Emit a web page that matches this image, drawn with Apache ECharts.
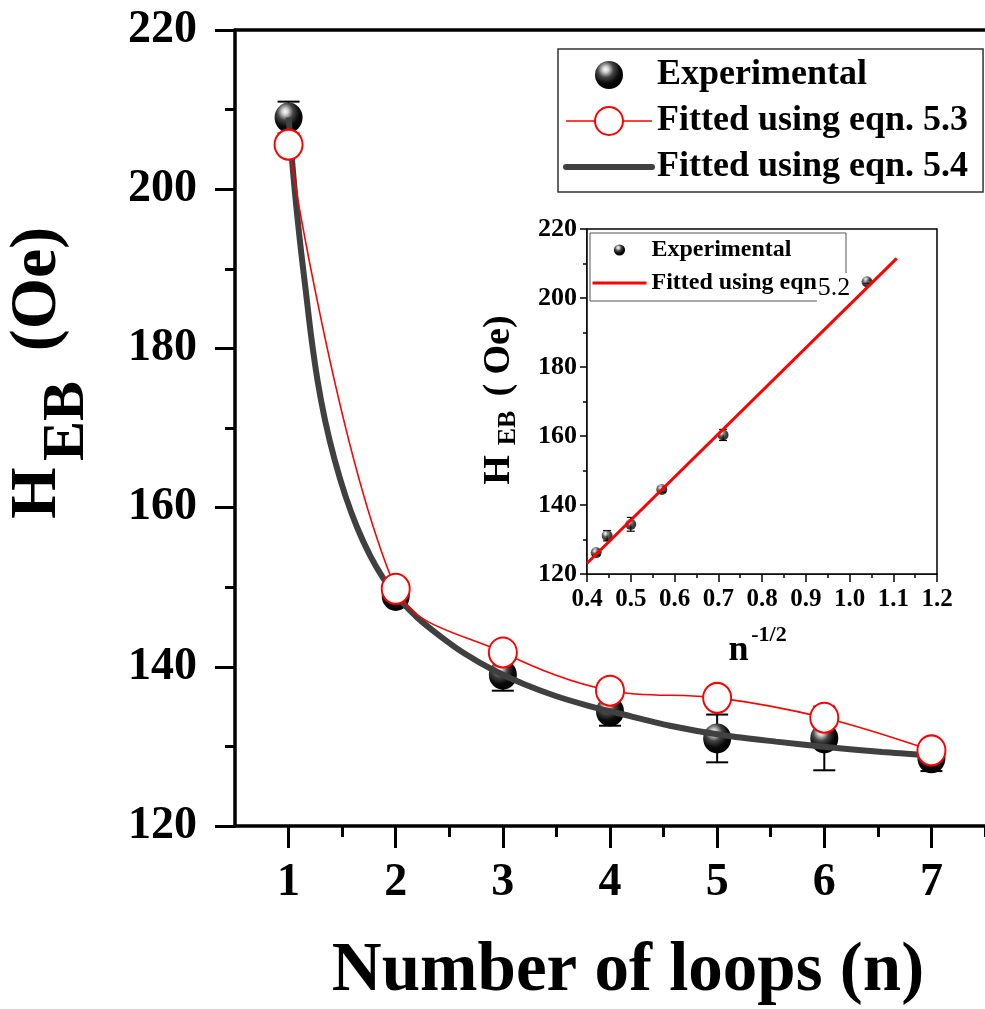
<!DOCTYPE html>
<html>
<head>
<meta charset="utf-8">
<script src="https://cdn.jsdelivr.net/npm/echarts@6/dist/echarts.min.js"></script>
<style>
html,body{margin:0;padding:0;background:#fff;}
#chart{width:985px;height:1009px;}
</style>
</head>
<body>
<div id="chart"></div>
<script>
// ---- main chart data ----
const loops = [1, 2, 3, 4, 5, 6, 7];
const hebExp = [209.0, 148.9, 139.0, 134.4, 131.0, 131.0, 128.5];
const hebErr = [2.0, 1.0, 2.0, 1.8, 3.0, 4.0, 1.6];
const fit53 = [205.6, 149.8, 141.8, 137.0, 136.1, 133.6, 129.5];
const fit54X = [1.00, 1.03, 1.06, 1.09, 1.12, 1.16, 1.21, 1.27, 1.34, 1.43, 1.53, 1.64, 1.76, 1.88, 2.00, 2.20, 2.42, 2.65, 2.91, 3.20, 3.50, 3.80, 4.07, 4.56, 5.06, 5.55, 6.04, 6.54, 6.97];
const fit54Y = [209.0, 204.0, 199.5, 195.5, 191.8, 187.3, 181.6, 176.0, 171.0, 166.0, 161.5, 157.5, 154.0, 151.2, 149.0, 146.2, 143.8, 141.6, 139.6, 137.8, 136.3, 135.1, 134.2, 132.6, 131.4, 130.6, 129.9, 129.3, 128.9];
const xMajorTicks = [1, 2, 3, 4, 5, 6, 7];
const xMinorTicks = [1.5, 2.5, 3.5, 4.5, 5.5, 6.5, 7.5];
// ---- inset data ----
const insetX = [0.421, 0.446, 0.5, 0.571, 0.711, 1.04];
const insetY = [126.2, 131.1, 134.4, 144.5, 160.3, 204.7];
const insetErr = [0.8, 1.5, 2.0, 0.8, 1.6, 0.5];
const insetFitX = [0.4, 1.108];
const insetFitY = [123.1, 211.5];

const FONT = 'Liberation Serif';
const sphere = {
  type: 'radial', x: 0.38, y: 0.3, r: 0.72,
  colorStops: [
    {offset: 0, color: '#ffffff'},
    {offset: 0.15, color: '#cfcfcf'},
    {offset: 0.4, color: '#444444'},
    {offset: 0.7, color: '#0a0a0a'},
    {offset: 1, color: '#000000'}
  ]
};

function errBar(halfCap, lw) {
  return function (params, api) {
    const x = api.value(0), y = api.value(1), e = api.value(2);
    const t = api.coord([x, y + e]);
    const b = api.coord([x, y - e]);
    const st = {stroke: '#000', lineWidth: lw};
    return {type: 'group', children: [
      {type: 'line', shape: {x1: t[0], y1: t[1], x2: b[0], y2: b[1]}, style: st},
      {type: 'line', shape: {x1: t[0] - halfCap, y1: t[1], x2: t[0] + halfCap, y2: t[1]}, style: st},
      {type: 'line', shape: {x1: b[0] - halfCap, y1: b[1], x2: b[0] + halfCap, y2: b[1]}, style: st}
    ]};
  };
}

const chart = echarts.init(document.getElementById('chart'), null, {renderer: 'canvas'});
const axisBlack = {color: '#000', width: 3.5};
const option = {
  animation: false,
  backgroundColor: '#fff',
  textStyle: {fontFamily: FONT},
  grid: [
    {left: 235, top: 30, right: -9, bottom: 183, containLabel: false},
    {left: 587, top: 229, width: 350, height: 345, show: true, backgroundColor: '#fff', borderColor: '#000', borderWidth: 1.5, z: 10}
  ],
  xAxis: [
    {gridIndex: 0, type: 'value', min: 0.5, max: 7.5, position: 'bottom',
     axisLine: {show: true, onZero: false, lineStyle: axisBlack},
     axisTick: {show: true, inside: false, length: 22, customValues: xMajorTicks, lineStyle: {color: '#000', width: 3}},
     axisLabel: {show: true, customValues: xMajorTicks, margin: 34, fontFamily: FONT, fontWeight: 'bold', fontSize: 46, color: '#000'},
     splitLine: {show: false}},
    {gridIndex: 0, type: 'value', min: 0.5, max: 7.5, position: 'bottom',
     axisLine: {show: false},
     axisTick: {show: true, inside: false, length: 11, customValues: xMinorTicks, lineStyle: {color: '#000', width: 3}},
     axisLabel: {show: false}, splitLine: {show: false}},
    {gridIndex: 0, type: 'value', min: 0.5, max: 7.5, position: 'top',
     axisLine: {show: true, onZero: false, lineStyle: axisBlack},
     axisTick: {show: false}, axisLabel: {show: false}, splitLine: {show: false}},
    {gridIndex: 1, type: 'value', min: 0.4, max: 1.2, interval: 0.1, position: 'bottom',
     axisLine: {show: true, onZero: false, lineStyle: {color: '#000', width: 1.5}},
     axisTick: {show: true, inside: false, length: 8, lineStyle: {color: '#000', width: 1.5}},
     minorTick: {show: true, splitNumber: 2, length: 4, lineStyle: {color: '#000', width: 1.5}},
     axisLabel: {margin: 13, fontFamily: FONT, fontWeight: 'bold', fontSize: 25, color: '#000',
                 formatter: function (v) { return v.toFixed(1); }},
     splitLine: {show: false}}
  ],
  yAxis: [
    {gridIndex: 0, type: 'value', min: 120, max: 220, interval: 20,
     axisLine: {show: true, onZero: false, lineStyle: axisBlack},
     axisTick: {show: true, inside: false, length: 20, lineStyle: {color: '#000', width: 3}},
     minorTick: {show: true, splitNumber: 2, length: 10, lineStyle: {color: '#000', width: 3}},
     axisLabel: {margin: 38, fontFamily: FONT, fontWeight: 'bold', fontSize: 46, color: '#000'},
     splitLine: {show: false}},
    {gridIndex: 1, type: 'value', min: 120, max: 220, interval: 20,
     axisLine: {show: true, onZero: false, lineStyle: {color: '#000', width: 1.5}},
     axisTick: {show: true, inside: false, length: 7, lineStyle: {color: '#000', width: 1.5}},
     minorTick: {show: true, splitNumber: 2, length: 4, lineStyle: {color: '#000', width: 1.5}},
     axisLabel: {margin: 10, fontFamily: FONT, fontWeight: 'bold', fontSize: 26, color: '#000'},
     splitLine: {show: false}}
  ],
  legend: [
    {orient: 'vertical', left: 558, top: 49, padding: [8, 15, 7, 5], itemGap: 10,
     itemWidth: 86, itemHeight: 35,
     borderColor: '#333', borderWidth: 1.5, backgroundColor: '#fff',
     textStyle: {fontFamily: FONT, fontWeight: 'bold', fontSize: 36, lineHeight: 36, color: '#000'},
     data: [
       {name: 'Experimental'},
       {name: 'Fitted using eqn. 5.3', lineStyle: {color: '#ff0000', width: 1.6}},
       {name: 'Fitted using eqn. 5.4', itemStyle: {opacity: 0}, lineStyle: {color: '#404040', width: 6, cap: 'round'}}
     ], selectedMode: false, z: 20},
    {orient: 'vertical', left: 591, top: 238, padding: 0, itemGap: 9,
     itemWidth: 54, itemHeight: 14,
     textStyle: {fontFamily: FONT, fontWeight: 'bold', fontSize: 24, lineHeight: 24, color: '#000'},
     data: [
       {name: 'Experimental'},
       {name: 'Fitted using eqn', itemStyle: {opacity: 0}, lineStyle: {color: '#ff0000', width: 3}}
     ], selectedMode: false, z: 20}
  ],
  series: [
    {type: 'custom', name: 'errMain', xAxisIndex: 0, yAxisIndex: 0, z: 2,
     renderItem: errBar(11, 2), encode: {x: 0, y: 1},
     data: loops.map(function (x, i) { return [x, hebExp[i], hebErr[i]]; })},
    {type: 'line', name: 'Experimental', xAxisIndex: 0, yAxisIndex: 0, z: 3,
     symbol: 'circle', symbolSize: [28, 30], showSymbol: true,
     itemStyle: {color: sphere},
     lineStyle: {width: 0, opacity: 0},
     data: loops.map(function (x, i) { return [x, hebExp[i]]; })},
    {type: 'line', name: 'Fitted using eqn. 5.4', xAxisIndex: 0, yAxisIndex: 0, z: 4,
     symbol: 'none', smooth: 0.3,
     lineStyle: {color: '#404040', width: 6},
     itemStyle: {color: '#404040'},
     data: fit54X.map(function (x, i) { return [x, fit54Y[i]]; })},
    {type: 'line', name: 'Fitted using eqn. 5.3', xAxisIndex: 0, yAxisIndex: 0, z: 5,
     symbol: 'circle', symbolSize: [28, 30], smooth: 0.35,
     lineStyle: {color: '#ff0000', width: 1.6},
     itemStyle: {color: '#ffffff', borderColor: '#ff0000', borderWidth: 2},
     data: loops.map(function (x, i) { return [x, fit53[i]]; })},
    {type: 'custom', name: 'errInset', xAxisIndex: 3, yAxisIndex: 1, z: 11,
     renderItem: errBar(4, 1.2), encode: {x: 0, y: 1},
     data: insetX.map(function (x, i) { return [x, insetY[i], insetErr[i]]; })},
    {type: 'scatter', name: 'Experimental', xAxisIndex: 3, yAxisIndex: 1, z: 12,
     symbol: 'circle', symbolSize: 11, itemStyle: {color: sphere},
     data: insetX.map(function (x, i) { return [x, insetY[i]]; })},
    {type: 'line', name: 'Fitted using eqn', xAxisIndex: 3, yAxisIndex: 1, z: 13,
     symbol: 'none', lineStyle: {color: '#ff0000', width: 3},
     itemStyle: {color: '#ff0000'},
     data: insetFitX.map(function (x, i) { return [x, insetFitY[i]]; })}
  ],
  graphic: [
    // main y-axis title
    {type: 'text', x: 38, y: 493, rotation: Math.PI / 2, z: 30,
     style: {text: 'H', font: 'bold 66px "Liberation Serif"', fill: '#000', textAlign: 'center', textVerticalAlign: 'middle'}},
    {type: 'text', x: 67, y: 421, rotation: Math.PI / 2, z: 30,
     style: {text: 'EB', font: 'bold 60px "Liberation Serif"', fill: '#000', textAlign: 'center', textVerticalAlign: 'middle'}},
    {type: 'text', x: 38, y: 289, rotation: Math.PI / 2, z: 30,
     style: {text: '(Oe)', font: 'bold 66px "Liberation Serif"', fill: '#000', textAlign: 'center', textVerticalAlign: 'middle'}},
    // main x-axis title
    {type: 'text', x: 628, y: 972, z: 30,
     style: {text: 'Number of loops (n)', font: 'bold 69px "Liberation Serif"', fill: '#000', textAlign: 'center', textVerticalAlign: 'middle'}},
    // inset y-axis title
    {type: 'text', x: 499.5, y: 470, rotation: Math.PI / 2, z: 30,
     style: {text: 'H', font: 'bold 38px "Liberation Serif"', fill: '#000', textAlign: 'center', textVerticalAlign: 'middle'}},
    {type: 'text', x: 508, y: 428, rotation: Math.PI / 2, z: 30,
     style: {text: 'EB', font: 'bold 26px "Liberation Serif"', fill: '#000', textAlign: 'center', textVerticalAlign: 'middle'}},
    {type: 'text', x: 499.5, y: 356, rotation: Math.PI / 2, z: 30,
     style: {text: '( Oe)', font: 'bold 38px "Liberation Serif"', fill: '#000', textAlign: 'center', textVerticalAlign: 'middle'}},
    // inset x-axis title
    {type: 'text', x: 738.5, y: 651, z: 30,
     style: {text: 'n', font: 'bold 36px "Liberation Serif"', fill: '#000', textAlign: 'center', textVerticalAlign: 'middle'}},
    {type: 'text', x: 769, y: 635, z: 30,
     style: {text: '-1/2', font: 'bold 22px "Liberation Serif"', fill: '#000', textAlign: 'center', textVerticalAlign: 'middle'}},
    // inset legend frame and label
    {type: 'polyline', z: 25,
     shape: {points: [[846, 273], [846, 233], [590, 233], [590, 301], [817, 301]]},
     style: {stroke: '#555', lineWidth: 1, fill: null}},
    {type: 'text', x: 834, y: 288, z: 30,
     style: {text: '5.2', font: '26px "Liberation Serif"', fill: '#000', textAlign: 'center', textVerticalAlign: 'middle'}}
  ]
};
chart.setOption(option);
</script>
</body>
</html>
